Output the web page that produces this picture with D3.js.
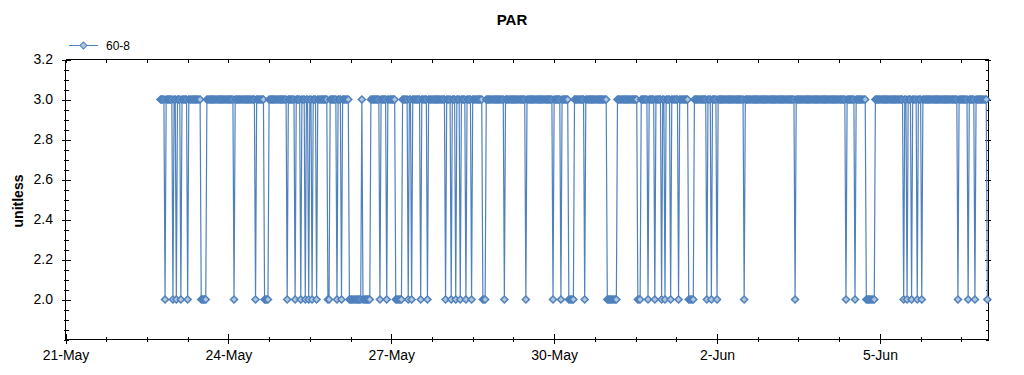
<!DOCTYPE html>
<html>
<head>
<meta charset="utf-8">
<title>PAR</title>
<script src="https://d3js.org/d3.v7.min.js"></script>
<style>
  body { margin: 0; background: #fff; }
  svg text { font-family: "Liberation Sans", Arial, sans-serif; fill: #000; }
  .axis path, .axis line { stroke: #000; shape-rendering: crispEdges; }
</style>
</head>
<body>
<svg id="chart" width="1024" height="375"></svg>
<script>
// ---- data (half-hourly readings, one array per day) ----
var seriesName = "60-8";
var chartTitle = "PAR";
var yTitle = "unitless";
var firstSample = "2015-05-22T18:00:00Z";   // first reading
var stepMinutes = 30;

var may22 = [3,3,3,3,2,3,3,3,3,3,3,2];   // starts 18:00
var may23 = [3,3,2,3,3,3,2,3,3,3,3,3, 2,3,3,3,3,3,3,3,3,3,3,3, 2,2,2,2,2,3,3,3,3,3,3,3, 3,3,3,3,3,3,3,3,3,3,3,3];
var may24 = [3,3,3,3,3,2,3,3,3,3,3,3, 3,3,3,3,3,3,3,3,3,3,3,3, 2,3,3,3,3,3,3,3,2,2,2,2, 3,3,3,3,3,3,3,3,3,3,3,3];
var may25 = [3,3,3,3,2,3,3,3,3,3,3,2, 3,3,3,3,2,3,3,3,2,3,3,2, 3,3,2,3,3,3,2,3,3,3,3,3, 3,3,3,3,2,2,3,3,3,3,3,3];
var may26 = [2,3,3,3,2,3,3,3,3,3,3,2, 2,2,2,2,2,2,2,2,2,2,3,2, 2,2,2,2,2,2,3,3,3,3,3,3, 3,3,2,3,3,3,3,3,2,3,3,3];
var may27 = [3,3,3,3,2,2,2,2,2,2,3,3, 3,3,3,2,3,3,2,3,3,3,3,3, 3,3,2,3,3,3,3,3,2,3,3,3, 3,3,3,3,3,3,3,3,3,3,3,3];
var may28 = [2,3,3,3,3,2,3,3,3,2,3,3, 3,2,3,3,3,3,2,3,3,3,3,2, 3,3,3,3,3,3,3,3,3,2,2,2, 3,3,3,3,3,3,3,3,3,3,3,3];
var may29 = [3,3,3,3,2,3,3,3,3,3,3,3, 3,3,3,3,3,3,3,3,3,3,3,2, 3,3,3,3,3,3,3,3,3,3,3,3, 3,3,3,3,3,3,3,3,3,3,3,2];
var may30 = [3,3,3,3,3,3,2,3,3,3,3,3, 3,2,2,2,2,2,3,3,3,3,3,3, 3,3,3,2,3,3,3,3,3,3,3,3, 3,3,3,3,3,3,3,3,3,3,3,2];
var may31 = [2,2,2,2,2,2,2,2,3,3,3,3, 3,3,3,3,3,3,3,3,3,3,3,3, 3,3,2,2,2,3,3,3,3,3,3,2, 3,3,3,3,3,2,3,3,3,3,3,2];
var jun01 = [3,3,2,3,3,3,3,2,3,3,3,3, 3,3,2,3,3,3,3,3,3,3,3,2, 2,2,2,2,3,3,3,3,3,3,3,3, 3,3,3,2,3,3,3,2,3,3,3,3];
var jun02 = [2,3,3,3,3,3,3,3,3,3,3,3, 3,3,3,3,3,3,3,3,3,3,3,3, 2,3,3,3,3,3,3,3,3,3,3,3, 3,3,3,3,3,3,3,3,3,3,3,3];
var jun03 = [3,3,3,3,3,3,3,3,3,3,3,3, 3,3,3,3,3,3,3,3,3,2,3,3, 3,3,3,3,3,3,3,3,3,3,3,3, 3,3,3,3,3,3,3,3,3,3,3,3];
var jun04 = [3,3,3,3,3,3,3,3,3,3,3,3, 3,3,3,3,3,3,2,3,3,3,3,3, 3,3,2,3,3,3,3,3,3,3,3,3, 2,2,2,2,2,2,2,2,3,3,3,3];
var jun05 = [3,3,3,3,3,3,3,3,3,3,3,3, 3,3,3,3,3,3,3,3,3,2,3,3, 2,3,3,3,2,3,3,3,3,2,3,3, 3,2,3,3,3,3,3,3,3,3,3,3];
var jun06 = [3,3,3,3,3,3,3,3,3,3,3,3, 3,3,3,3,3,3,3,3,3,2,3,3, 3,3,3,3,3,3,2,3,3,3,3,3, 2,3,3,3,3,3,3,3,3,3,3,2];

var yLabelValues = [2.0, 2.2, 2.4, 2.6, 2.8, 3.0, 3.2];
var xLabelDays = ["2015-05-21", "2015-05-24", "2015-05-27", "2015-05-30", "2015-06-02", "2015-06-05"];
var xDomain = ["2015-05-21T00:00:00Z", "2015-06-07T00:00:00Z"];
var yDomain = [1.8, 3.2];

// ---- build table ----
var dayRows = [may22, may23, may24, may25, may26, may27, may28, may29, may30,
               may31, jun01, jun02, jun03, jun04, jun05, jun06];
var t0 = new Date(firstSample).getTime();
var data = [].concat.apply([], dayRows).map(function(v, i) {
  return { t: new Date(t0 + i * stepMinutes * 60000), v: v };
});

var svg = d3.select("#chart");
var plotLeft = 65.5, plotRight = 988.5, plotTop = 59.5, plotBottom = 339.5;

var x = d3.scaleUtc()
  .domain(xDomain.map(function(d) { return new Date(d); }))
  .range([plotLeft, plotRight]);
var y = d3.scaleLinear().domain(yDomain).range([plotBottom, plotTop]);

var labelTimes = xLabelDays.map(function(d) { return +new Date(d + "T00:00:00Z"); });
var isXLabel = function(d) { return labelTimes.indexOf(+d) >= 0; };
var fmt = d3.utcFormat("%-d-%b");

// x ticks every 18 hours
var xTicks = d3.range(0, 23).map(function(i) { return new Date(+x.domain()[0] + i * 18 * 3600000); });

// y ticks every 0.05
var yTicks = d3.range(0, 29).map(function(i) { return +(yDomain[0] + i * 0.05).toFixed(2); });
var isYLabel = function(d) { return yLabelValues.some(function(v) { return Math.abs(v - d) < 1e-6; }); };

// bottom axis
var gx = svg.append("g").attr("class", "axis")
  .attr("transform", "translate(0," + plotBottom + ")")
  .call(d3.axisBottom(x).tickValues(xTicks).tickSizeOuter(0)
    .tickFormat(function(d) { return isXLabel(d) ? fmt(d) : ""; }));
gx.select(".domain").attr("d", "M" + plotLeft + ",0H" + plotRight);
gx.selectAll(".tick line")
  .attr("y1", function(d) { return isXLabel(d) ? -6 : -3; })
  .attr("y2", function(d) { return isXLabel(d) ? 4 : 2; });
gx.selectAll(".tick text").attr("y", 20.5).attr("dy", null)
  .style("font-size", "14px");

// top axis
var gt = svg.append("g").attr("class", "axis")
  .attr("transform", "translate(0," + plotTop + ")")
  .call(d3.axisTop(x).tickValues(xTicks).tickSizeOuter(0).tickFormat(""));
gt.select(".domain").attr("d", "M" + plotLeft + ",0H" + plotRight);
gt.selectAll(".tick line").attr("y1", 0).attr("y2", 3);

// left axis
var gy = svg.append("g").attr("class", "axis")
  .attr("transform", "translate(" + plotLeft + ",0)")
  .call(d3.axisLeft(y).tickValues(yTicks).tickSizeOuter(0)
    .tickFormat(function(d) { return isYLabel(d) ? d3.format(".1f")(d) : ""; }));
gy.select(".domain").attr("d", "M0," + plotTop + "V" + plotBottom);
gy.selectAll(".tick line")
  .attr("x1", function(d) { return isYLabel(d) ? -4 : -2; })
  .attr("x2", function(d) { return isYLabel(d) ? 5 : 3; });
gy.selectAll(".tick text").attr("x", -12.5).style("font-size", "14px");

// right axis
var gr = svg.append("g").attr("class", "axis")
  .attr("transform", "translate(" + plotRight + ",0)")
  .call(d3.axisRight(y).tickValues(yTicks).tickSizeOuter(0).tickFormat(""));
gr.select(".domain").attr("d", "M0," + plotTop + "V" + plotBottom);
gr.selectAll(".tick line")
  .attr("x1", function(d) { return isYLabel(d) ? -4 : -3; })
  .attr("x2", function(d) { return isYLabel(d) ? 2 : 0; });

// series
var lineColor = "#4f81bd", markerFill = "#b0c6dc";
svg.append("path")
  .datum(data)
  .attr("fill", "none")
  .attr("stroke", lineColor)
  .attr("stroke-width", 1.2)
  .attr("d", d3.line().x(function(d) { return x(d.t); }).y(function(d) { return y(d.v); }));

var diamond = d3.symbol().type(d3.symbolSquare).size(25);
svg.append("g").selectAll("path")
  .data(data)
  .enter().append("path")
  .attr("d", diamond)
  .attr("transform", function(d) { return "translate(" + x(d.t) + "," + y(d.v) + ") rotate(45)"; })
  .attr("fill", markerFill)
  .attr("stroke", lineColor)
  .attr("stroke-width", 1.5);

// titles
svg.append("text").attr("x", 512).attr("y", 25).attr("text-anchor", "middle")
  .style("font-size", "15px").style("font-weight", "bold").text(chartTitle);
svg.append("text").attr("transform", "translate(23,201) rotate(-90)")
  .attr("text-anchor", "middle")
  .style("font-size", "14px").style("font-weight", "bold").text(yTitle);

// legend
var lg = svg.append("g");
lg.append("line").attr("x1", 69).attr("x2", 98).attr("y1", 45.5).attr("y2", 45.5)
  .attr("stroke", lineColor);
lg.append("path").attr("d", diamond).attr("transform", "translate(83.5,45.5) rotate(45)")
  .attr("fill", markerFill).attr("stroke", lineColor);
lg.append("text").attr("x", 106).attr("y", 49.5).style("font-size", "12px").text(seriesName);
</script>
</body>
</html>
